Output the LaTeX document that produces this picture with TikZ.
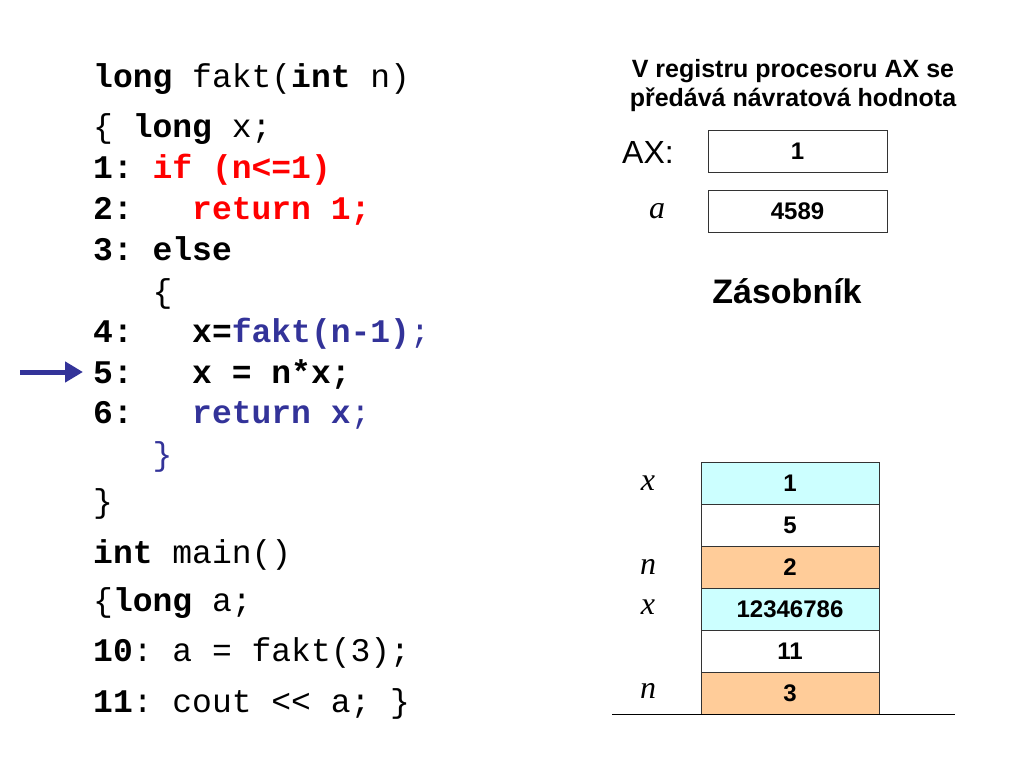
\documentclass[tikz,border=0pt]{standalone}
\usepackage{xcolor}
\usepackage{fontspec}
\setmainfont{Liberation Sans}
\setmonofont{Liberation Mono}
\newfontfamily\timesit{Liberation Serif}[ItalicFont=* Italic]
\usetikzlibrary{positioning,calc,arrows.meta}
\definecolor{codeblue}{HTML}{333399}
\definecolor{codered}{HTML}{FF0000}
\definecolor{cellcyan}{HTML}{CCFFFF}
\definecolor{cellorange}{HTML}{FFCC99}

\begin{document}
\begin{tikzpicture}[x=1pt,y=-1pt,
    code/.style={anchor=base west, inner sep=0pt, font=\ttfamily\fontsize{33}{33}\selectfont},
    cell/.style={draw=black!80, line width=0.8pt, minimum width=178pt, minimum height=42pt, inner sep=0pt, font=\bfseries\fontsize{24}{24}\selectfont},
    var/.style={font=\timesit\itshape\fontsize{32}{32}\selectfont},
    ptr/.style={draw=codeblue, line width=5pt, shorten >=10pt, -{Triangle[length=18pt,width=20pt]}}]
    \useasboundingbox (0,0) rectangle (1024,768);
    % kod funkce fakt
    \node[code] (l1) at (93,87) {\textbf{long} fakt(\textbf{int} n)};
    \node[code] (l2) at (93,137) {\{ \textbf{long} x;};
    \node[code] (l3) at (93,178) {\textbf{1:} \textcolor{codered}{\textbf{if (n<=1)}}};
    \node[code] (l4) at (93,219) {\textbf{2:}~~~\textcolor{codered}{\textbf{return 1;}}};
    \node[code] (l5) at (93,260) {\textbf{3: else}};
    \node[code] (l6) at (93,302) {~~~\{};
    \node[code] (l7) at (93,342) {\textbf{4:}~~~\textbf{x=}\textcolor{codeblue}{\textbf{fakt(n-1)};}};
    \node[code] (l8) at (93,383) {\textbf{5:~~~x = n*x;}};
    \node[code] (l9) at (93,423) {\textbf{6:}~~~\textcolor{codeblue}{\textbf{return x};}};
    \node[code] (l10) at (93,465) {~~~\textcolor{codeblue}{\}}};
    \node[code] (l11) at (93,512) {\}};
    % main
    \node[code] (l12) at (93,563) {\textbf{int} main()};
    \node[code] (l13) at (93,611) {\{\textbf{long} a;};
    \node[code] (l14) at (93,661) {\textbf{10}: a = fakt(3);};
    \node[code] (l15) at (93,712) {\textbf{11}: cout <{}< a; \}};
    \coordinate (tail) at (20,372);
    \draw[ptr] (tail) -- (tail -| l8.west);
    % registry
    \node[align=center, font=\bfseries\fontsize{25}{29}\selectfont] (title) at (793,86) {V registru procesoru AX se\\předává návratová hodnota};
    \node[cell, minimum width=179pt] (axreg) at (797.5,151) {1};
    \node[font=\fontsize{32}{32}\selectfont] (axlbl) at (648,152) {AX:};
    \node[cell, minimum width=179pt] (areg) at (797.5,211) {4589};
    \node[var] (albl) at (657,211) {a};
    \node[font=\bfseries\fontsize{34}{34}\selectfont] (stacktitle) at (787,291) {Zásobník};
    % zasobnik
    \node[cell, fill=cellcyan] (s1) at (790,483) {1};
    \node[cell] (s2) at (790,525) {5};
    \node[cell, fill=cellorange] (s3) at (790,567) {2};
    \node[cell, fill=cellcyan] (s4) at (790,609) {12346786};
    \node[cell] (s5) at (790,651) {11};
    \node[cell, fill=cellorange] (s6) at (790,693) {3};
    \node[var] (x1) at (648,483) {x};
    \node[var] (n1) at (648,567) {n};
    \node[var] (x2) at (648,607) {x};
    \node[var] (n2) at (648,691) {n};
    \coordinate (floorl) at (612,714);
    \coordinate (floorr) at (955,714);
    \draw[line width=0.8pt] (floorl) -- (floorr);
\end{tikzpicture}
\end{document}
